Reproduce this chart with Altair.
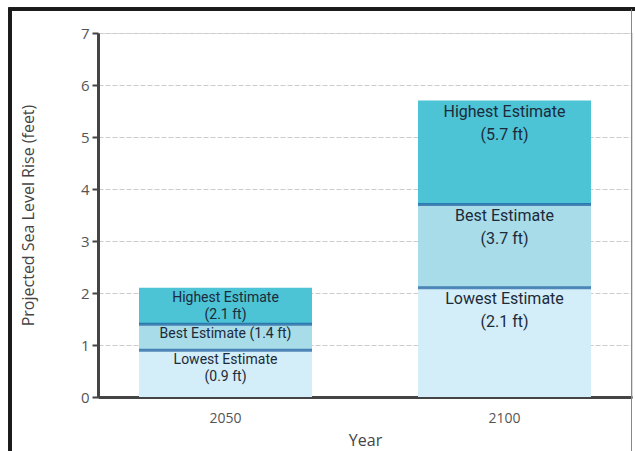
import altair as alt
import pandas as pd

years = ["2050", "2100"]
categories = ["Lowest", "Best", "Highest"]
lowest = [0.9, 2.1]
best = [1.4, 3.7]
highest = [2.1, 5.7]
labels_2050 = ["Lowest Estimate\n(0.9 ft)", "Best Estimate (1.4 ft)", "Highest Estimate\n(2.1 ft)"]
labels_2100 = ["Lowest Estimate\n(2.1 ft)", "Best Estimate\n(3.7 ft)", "Highest Estimate\n(5.7 ft)"]
colors = ["#d3eef8", "#a7dce8", "#4dc3d6"]

rows = []
for i, yr in enumerate(years):
    tops = [lowest[i], best[i], highest[i]]
    labs = labels_2050 if i == 0 else labels_2100
    prev = 0.0
    for j, cat in enumerate(categories):
        rows.append({"year": yr, "cat": cat, "y0": prev, "y1": tops[j], "label": labs[j], "order": j})
        prev = tops[j]
df = pd.DataFrame(rows)

FONT = "Open Sans"
NARROW = "Roboto"

xscale = alt.Scale(domain=years, paddingInner=0.38, paddingOuter=0.147)
yscale = alt.Scale(domain=[0, 7], nice=False)

base = alt.Chart(df)

bars = base.mark_bar().encode(
    x=alt.X("year:N", scale=xscale, sort=years,
            axis=alt.Axis(title="Year", labelAngle=0, ticks=False, labelPadding=14,
                          domainColor="#444444", domainWidth=3, labelColor="#555555",
                          labelFont=FONT, labelFontSize=14, titleFont=FONT, titleFontSize=16,
                          titleColor="#444444", titleFontWeight="normal", titlePadding=7,
                          grid=False)),
    y=alt.Y("y1:Q", scale=yscale,
            axis=alt.Axis(title="Projected Sea Level Rise (feet)", values=list(range(8)),
                          format="d",
                          domainColor="#444444", domainWidth=3, tickColor="#444444",
                          tickWidth=2, tickSize=6, labelPadding=3, labelColor="#555555",
                          labelFont=FONT, labelFontSize=15, titleFont=FONT, titleFontSize=16,
                          titleColor="#444444", titleFontWeight="normal", titleX=-62,
                          grid=True, gridColor="#cccccc", gridDash=[5, 2], gridWidth=1)),
    y2="y0:Q",
    color=alt.Color("cat:N", scale=alt.Scale(domain=categories, range=colors), legend=None),
)

dividers = base.transform_filter(alt.datum.cat != "Highest").mark_tick(
    color="#1a5c9e", thickness=3, size=173, orient="horizontal"
).encode(
    x=alt.X("year:N", scale=xscale, sort=years),
    y=alt.Y("y1:Q", scale=yscale),
)

text_2050 = base.transform_filter(alt.datum.year == "2050").mark_text(
    font=NARROW, fontSize=14, color="#1c2a3a", baseline="top", dy=3,
    lineBreak="\n", lineHeight=17,
).encode(
    x=alt.X("year:N", scale=xscale, sort=years),
    y=alt.Y("y1:Q", scale=yscale),
    text="label:N",
)

text_2100 = base.transform_filter(alt.datum.year == "2100").mark_text(
    font=NARROW, fontSize=16, color="#1c2a3a", baseline="top", dy=3,
    lineBreak="\n", lineHeight=23,
).encode(
    x=alt.X("year:N", scale=xscale, sort=years),
    y=alt.Y("y1:Q", scale=yscale),
    text="label:N",
)

frame_left = alt.Chart(df).mark_rule(color="#1a1a1a", strokeWidth=3).encode(
    x=alt.value(-88), y=alt.value(-24), y2=alt.value(420))
frame_top = alt.Chart(df).mark_rule(color="#1a1a1a", strokeWidth=3).encode(
    x=alt.value(-89.5), x2=alt.value(540), y=alt.value(-24))
frame_right = alt.Chart(df).mark_rule(color="#888888", strokeWidth=1).encode(
    x=alt.value(533.5), y=alt.value(-24), y2=alt.value(420))

chart = alt.layer(bars, dividers, text_2050, text_2100, frame_left, frame_top, frame_right).properties(
    width=534, height=364,
    autosize=alt.AutoSizeParams(type="none"),
    padding={"left": 98, "top": 33, "right": 3, "bottom": 54},
).configure_view(stroke=None).configure(background="white")

chart.save("out.html", embed_options={"renderer": "svg", "actions": False})
